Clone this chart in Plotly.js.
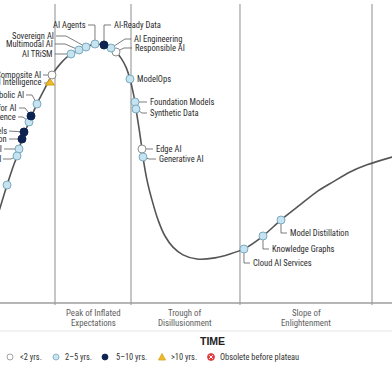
<!DOCTYPE html>
<html><head><meta charset="utf-8">
<script src="https://cdn.plot.ly/plotly-3.0.1.min.js"></script>
<style>html,body{margin:0;padding:0;background:#fff}#chart{width:392px;height:392px}</style>
</head><body><div id="chart"></div>
<script>
// ---- data (time on x, expectations on y, both 0..100) ----
const curveX = [-2.55, 0, 1.79, 3.06, 4.34, 5.61, 7.40, 9.44, 11.22, 13.27, 15.31, 18.11, 20.15, 21.94, 24.23, 26.53, 28.32, 29.59, 30.87, 32.14, 33.16, 33.93, 34.44, 34.69, 35.46, 36.22, 36.48, 37.50, 38.78, 40.31, 42.09, 44.13, 46.68, 50.26, 54.85, 58.67, 62.24, 67.09, 71.68, 76.53, 81.12, 84.95, 89.29, 93.62, 100, 102.04];
const curveY = [21.1, 31.8, 39.5, 44.5, 49.2, 54.8, 60.5, 66.6, 71.2, 76.3, 79.9, 83.3, 84.6, 85.6, 86.6, 86.3, 85.3, 83.9, 81.9, 78.9, 74.9, 70.6, 67.2, 64.9, 58.5, 51.5, 48.8, 41.1, 34.4, 27.8, 22.4, 18.7, 16.1, 14.7, 15.1, 16.4, 18.1, 22.4, 27.8, 32.8, 37.5, 40.5, 43.8, 46.2, 48.8, 49.5];

const techNames = ["AI TRiSM", "Multimodal AI", "Sovereign AI", "AI Agents", "AI-Ready Data", "AI Engineering", "Responsible AI",
  "Composite AI", "Artificial General Intelligence", "Neurosymbolic AI", "Data Labeling for AI", "Decision Intelligence",
  "World Models", "AI Simulation", "Causal AI", "Embodied AI", "Multiagent Systems",
  "ModelOps", "Foundation Models", "Synthetic Data", "Edge AI", "Generative AI",
  "Cloud AI Services", "Knowledge Graphs", "Model Distillation"];
const techX = [18.11, 20.15, 21.94, 24.23, 26.53, 28.32, 29.59, 13.27, 12.76, 9.44, 7.91, 7.40, 6.12, 5.61, 4.85, 4.34, 1.79, 33.16, 34.44, 34.69, 36.22, 36.48, 62.24, 67.09, 71.68];
const techY = [83.28, 84.62, 85.62, 86.62, 86.29, 85.28, 83.95, 76.25, 73.58, 66.56, 62.54, 60.54, 57.19, 54.85, 51.51, 49.16, 39.46, 74.92, 67.22, 64.88, 51.51, 48.83, 18.06, 22.41, 27.76];
const techYears = ["2–5", "2–5", "2–5", "2–5", "5–10", "2–5", "<2", "<2", ">10", "2–5", "5–10", "2–5", "5–10", "5–10", "2–5", "2–5", "2–5", "2–5", "2–5", "2–5", "<2", "2–5", "2–5", "2–5", "2–5"];

const phaseBounds = [14.03, 33.42, 61.22, 94.9];
const phaseLabels = [["Peak of Inflated", "Expectations"], ["Trough of", "Disillusionment"], ["Slope of", "Enlightenment"]];
const legendKeys = ["<2", "2–5", "5–10", ">10", "obsolete"];
const legendLabels = ["&lt;2 yrs.", "2–5 yrs.", "5–10 yrs.", "&gt;10 yrs.", "Obsolete before plateau"];

// ---- presentation ----
const W = 392, H = 392, mT = 4, mB = 89;
const plotH = H - mT - mB;
const pxX = W / 100, pxY = plotH / 100;
const FONT = "'Liberation Sans Narrow', 'Arial Narrow', 'Roboto Condensed', 'Liberation Sans', sans-serif";

const styles = {
  "<2":   {fill: "#ffffff", line: "#8c8c8c", symbol: "circle"},
  "2–5":  {fill: "#c6e3ef", line: "#79abc3", symbol: "circle"},
  "5–10": {fill: "#0d2350", line: "#0d2350", symbol: "circle"},
  ">10":  {fill: "#f0b928", line: "#d6a11c", symbol: "triangle-up"}
};

// label placement: leader path offsets (px, +y down) and text anchor offset
const labelPlace = {
  "AI TRiSM": {p: [[-16, 0]], t: [-17, 0], a: "right"},
  "Multimodal AI": {p: [[-14, -6], [-24, -6]], t: [-25, -6], a: "right"},
  "Sovereign AI": {p: [[-20, -11], [-30, -11]], t: [-31, -11], a: "right"},
  "AI Agents": {p: [[0, -19], [-7, -19]], t: [-8, -19], a: "right"},
  "AI-Ready Data": {p: [[0, -20], [7, -20]], t: [9, -20], a: "left"},
  "AI Engineering": {p: [[14, -9], [20, -9]], t: [22, -9], a: "left"},
  "Responsible AI": {p: [[8, -4], [16, -4]], t: [18, -4], a: "left"},
  "Composite AI": {p: [[-9, 0]], t: [-10, 0], a: "right"},
  "Artificial General Intelligence": {p: [[-6, 0]], t: [-7, -1], a: "right"},
  "Neurosymbolic AI": {p: [[-5, -9], [-11, -9]], t: [-12, -9], a: "right"},
  "Data Labeling for AI": {p: [[-6, -8], [-12, -8]], t: [-14, -8], a: "right"},
  "Decision Intelligence": {p: [[-6, -5], [-11, -5]], t: [-12, -5], a: "right"},
  "World Models": {p: [[-15, -1]], t: [-16, -1], a: "right"},
  "AI Simulation": {p: [[-13, 0]], t: [-14, 0], a: "right"},
  "Causal AI": {p: [[-15, 0]], t: [-16, 0], a: "right"},
  "Embodied AI": {p: [[-6, 3], [-14, 3]], t: [-15, 3], a: "right"},
  "ModelOps": {p: [], t: [6, 0], a: "left"},
  "Foundation Models": {p: [[12, 0]], t: [14, 0], a: "left"},
  "Synthetic Data": {p: [[6, 4], [11, 4]], t: [13, 4], a: "left"},
  "Edge AI": {p: [[11, 0]], t: [13, 0], a: "left"},
  "Generative AI": {p: [[6, 2], [13, 2]], t: [15, 2], a: "left"},
  "Cloud AI Services": {p: [[0, 14], [6, 14]], t: [8, 14], a: "left"},
  "Knowledge Graphs": {p: [[0, 13], [6, 13]], t: [8, 13], a: "left"},
  "Model Distillation": {p: [[0, 13], [6, 13]], t: [8, 13], a: "left"}
};

const traces = [{
  x: curveX, y: curveY, mode: "lines", type: "scatter",
  line: {color: "#555", width: 1.6, shape: "spline", smoothing: 0.7},
  hoverinfo: "skip", showlegend: false
}];
Object.keys(styles).forEach(k => {
  const idx = techYears.map((v, i) => v === k ? i : -1).filter(i => i >= 0);
  traces.push({
    x: idx.map(i => techX[i]), y: idx.map(i => techY[i]), text: idx.map(i => techNames[i]),
    mode: "markers", type: "scatter", showlegend: false, hoverinfo: "text",
    marker: {symbol: styles[k].symbol, size: 8, color: styles[k].fill, line: {color: styles[k].line, width: 1}}
  });
});

const shapes = [], annotations = [];
// phase boundaries
phaseBounds.forEach(b => shapes.push({type: "line", xref: "x", yref: "paper", x0: b, x1: b, y0: -2 / plotH, y1: 1,
  line: {color: "#b8b8b8", width: 1.6}, layer: "below"}));
// axis line + separator
shapes.push({type: "line", xref: "paper", yref: "paper", x0: 0, x1: 1, y0: 0, y1: 0, line: {color: "#9c9c9c", width: 1.6}, layer: "below"});
shapes.push({type: "line", xref: "paper", yref: "paper", x0: 0, x1: 1, y0: -28 / plotH, y1: -28 / plotH, line: {color: "#e8e8e8", width: 1.2}, layer: "below"});

// leaders + labels
techNames.forEach((n, i) => {
  const L = labelPlace[n];
  if (!L) return;
  const x = techX[i], y = techY[i];
  if (L.p.length) {
    let d = `M${x},${y}`;
    L.p.forEach(o => { d += ` L${x + o[0] / pxX},${y - o[1] / pxY}`; });
    shapes.push({type: "path", xref: "x", yref: "y", path: d, line: {color: "#5a5a5a", width: 0.8}, layer: "below"});
  }
  annotations.push({x: x, y: y, xref: "x", yref: "y", text: n, showarrow: false, borderpad: 0,
    xanchor: L.a, yanchor: "middle", xshift: L.t[0], yshift: -L.t[1],
    font: {family: FONT, size: 8.5, color: "#2b2b2b"}});
});

// phase labels
phaseLabels.forEach((lines, i) => {
  const cx = (phaseBounds[i] + phaseBounds[i + 1]) / 2;
  lines.forEach((t, j) => annotations.push({x: cx, xref: "x", yref: "paper", y: -(10 + j * 9.5) / plotH,
    text: t, showarrow: false, xanchor: "center", yanchor: "middle", borderpad: 0,
    font: {family: FONT, size: 8.8, color: "#5e5e5e"}}));
});

// axis title
annotations.push({x: 212 / W, xref: "paper", yref: "paper", y: -38 / plotH, text: "<b>TIME</b>", showarrow: false,
  xanchor: "center", yanchor: "middle", font: {family: "'Liberation Sans', Arial, sans-serif", size: 10.5, color: "#222"}});

// legend
const legY = -54 / plotH;
const legSym = [10, 56, 105, 162, 211], legTxt = [19, 64, 115, 170, 219];
legendKeys.forEach((k, i) => {
  const ax = legSym[i] / W;
  const base = {xref: "paper", yref: "paper", xsizemode: "pixel", ysizemode: "pixel", xanchor: ax, yanchor: legY};
  if (k === ">10") {
    shapes.push(Object.assign({type: "path", path: "M-3.5,-3 L3.5,-3 L0,3.5 Z", fillcolor: styles[k].fill, line: {color: styles[k].line, width: 0.8}}, base));
  } else if (k === "obsolete") {
    shapes.push(Object.assign({type: "circle", x0: -3.5, x1: 3.5, y0: -3.5, y1: 3.5, fillcolor: "#e23b3b", line: {color: "#e23b3b", width: 0.8}}, base));
    shapes.push(Object.assign({type: "path", path: "M-1.8,-1.8 L1.8,1.8 M-1.8,1.8 L1.8,-1.8", line: {color: "#fff", width: 1}}, base));
  } else {
    shapes.push(Object.assign({type: "circle", x0: -3, x1: 3, y0: -3, y1: 3, fillcolor: styles[k].fill, line: {color: styles[k].line, width: 0.8}}, base));
  }
  annotations.push({x: legTxt[i] / W, xref: "paper", yref: "paper", y: legY, text: legendLabels[i], showarrow: false,
    xanchor: "left", yanchor: "middle", borderpad: 0, font: {family: FONT, size: 8.4, color: "#333"}});
});

const layout = {
  width: W, height: H, margin: {l: 0, r: 0, t: mT, b: mB, pad: 0},
  paper_bgcolor: "#fff", plot_bgcolor: "#fff", showlegend: false,
  xaxis: {range: [0, 100], visible: false, fixedrange: true},
  yaxis: {range: [0, 100], visible: false, fixedrange: true},
  shapes: shapes, annotations: annotations
};
Plotly.newPlot("chart", traces, layout, {staticPlot: true, displayModeBar: false});
</script></body></html>
